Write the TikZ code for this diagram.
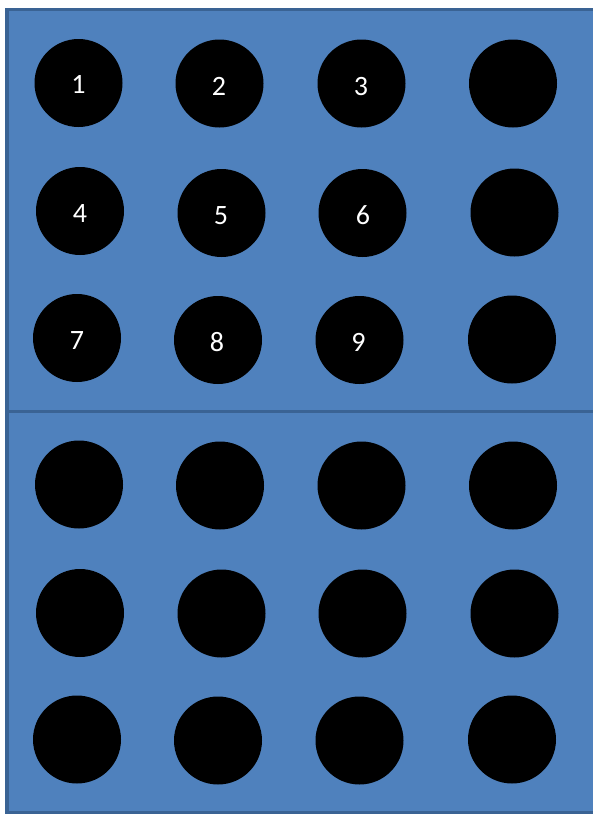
\documentclass[tikz,border=0pt]{standalone}
\usepackage{fontspec}
\setmainfont{Carlito}
\definecolor{panelfill}{HTML}{4F81BD}
\definecolor{paneledge}{HTML}{3A6394}
\begin{document}
\begin{tikzpicture}[x=1pt,y=-1pt,
  hole/.style={circle,fill=black,minimum size=88pt,inner sep=0pt},
  num/.style={anchor=base,text=white,font=\fontsize{28}{30}\selectfont,inner sep=0pt}]
\useasboundingbox (0,0) rectangle (593,814);
\fill[white] (0,0) rectangle (593,814);
\draw[fill=panelfill,draw=paneledge,line width=3.5pt] (7,9.5) rectangle (610,812.5);
\coordinate (divL) at (7,411.5);
\coordinate (divR) at (610,411.5);
\draw[paneledge,line width=3.5pt] (divL) -- (divR);
% row 1
\node[hole] (c11) at (78.5,83) {};
\node[hole] (c12) at (219.5,83.5) {};
\node[hole] (c13) at (361.5,83.5) {};
\node[hole] (c14) at (513,83.5) {};
% row 2
\node[hole] (c21) at (80,211) {};
\node[hole] (c22) at (221.5,213) {};
\node[hole] (c23) at (362.5,213) {};
\node[hole] (c24) at (514.5,212.5) {};
% row 3
\node[hole] (c31) at (77,338) {};
\node[hole] (c32) at (218,340) {};
\node[hole] (c33) at (359.5,340) {};
\node[hole] (c34) at (512,339.5) {};
% row 4
\node[hole] (c41) at (79,484.5) {};
\node[hole] (c42) at (220,485.5) {};
\node[hole] (c43) at (361.5,485.5) {};
\node[hole] (c44) at (513,485.5) {};
% row 5
\node[hole] (c51) at (80,613) {};
\node[hole] (c52) at (221.5,613.5) {};
\node[hole] (c53) at (362.5,613.5) {};
\node[hole] (c54) at (514.5,613.5) {};
% row 6
\node[hole] (c61) at (77,739.5) {};
\node[hole] (c62) at (218,740.5) {};
\node[hole] (c63) at (359.5,740.5) {};
\node[hole] (c64) at (512,739.5) {};
% labels
\node[num] (n1) at (78.5,93.5) {1};
\node[num] (n2) at (219,95) {2};
\node[num] (n3) at (361,95) {3};
\node[num] (n4) at (80,222) {4};
\node[num] (n5) at (221,224) {5};
\node[num] (n6) at (363,224) {6};
\node[num] (n7) at (77,349) {7};
\node[num] (n8) at (217,351) {8};
\node[num] (n9) at (358.5,351) {9};
\end{tikzpicture}
\end{document}
